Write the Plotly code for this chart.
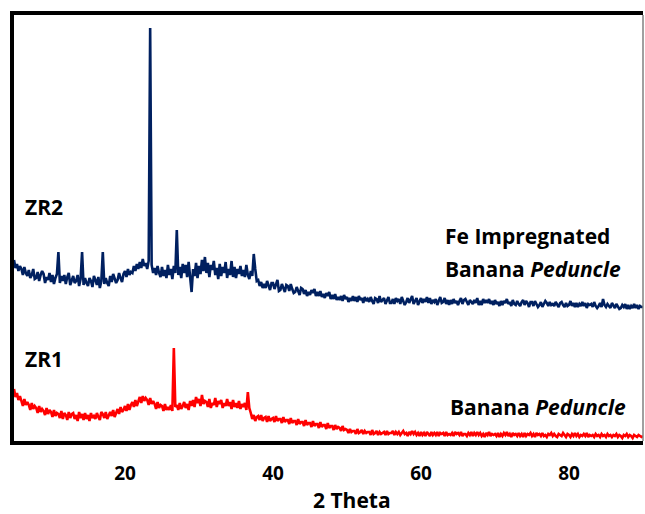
import plotly.graph_objects as go

# 2-theta scan grid (0.2 degree step, 5 to 90)
two_theta_start = 5.0
two_theta_step = 0.2

# ZR2 : Fe impregnated banana peduncle (intensity, a.u.), one row = one degree
zr2 = [
    181,173,177,170,175, 172,166,174,168,165, 171,163,166,172,162, 163,169,160,166,170,
    167,158,164,161,168, 159,166,157,163,167, 189,158,165,160,166, 157,164,168,156,162,
    165,158,160,166,155, 162,189,156,163,158, 155,163,160,154,165, 161,156,164,153,160,
    189,157,163,158,155, 165,159,167,161,158, 161,168,163,159,167, 170,164,172,166,169,
    168,175,170,177,172, 179,173,182,175,178, 172,180,413,176,168, 173,166,175,168,164,
    174,165,171,163,176, 166,172,162,175,168, 211,166,174,163,177, 168,176,164,179,166,
    149,172,165,178,163, 175,167,181,170,184, 168,178,164,176,171, 180,166,173,162,177,
    165,174,168,179,163, 172,166,180,164,174, 163,172,167,175,165, 171,164,176,166,162,
    170,165,187,172,160, 161,155,159,153,157, 153,160,155,151,158, 158,152,156,161,150,
    151,157,153,149,156, 155,150,157,152,148, 149,154,150,146,153, 152,147,151,145,149,
    146,151,148,152,145, 149,145,150,144,147, 143,148,145,149,142, 146,142,147,141,144,
    141,145,140,146,142, 144,139,143,140,145, 140,144,139,145,141, 143,138,144,140,142,
    139,144,140,137,143, 142,138,145,139,141, 143,137,141,144,138, 138,142,137,143,140,
    142,137,144,139,136, 139,143,138,141,145, 137,141,143,136,140, 143,138,142,139,144,
    138,143,137,141,139, 142,136,140,144,138, 139,143,137,141,136, 141,137,142,138,140,
    136,140,143,137,141, 142,138,136,141,139, 137,141,138,143,136, 140,136,142,138,141,
    138,142,137,140,136, 141,137,139,135,140, 136,140,138,142,137, 139,135,141,137,136,
    140,137,135,139,141, 136,140,138,134,139, 139,135,140,137,134, 136,139,134,138,140,
    138,135,139,136,137, 135,139,137,134,138, 139,136,134,138,135, 136,140,135,138,134,
    138,134,137,135,139, 135,138,133,137,136, 137,134,139,135,133, 135,138,134,142,136,
    134,137,135,133,138, 136,133,137,134,132, 133,136,134,137,132, 136,132,135,133,137,
    133,136,132,135,134,
    134,
]

# ZR1 : banana peduncle (intensity, a.u.), one row = one degree
zr1 = [
    52,44,48,41,45, 40,35,42,36,39, 36,31,38,32,35, 33,28,35,29,32, 30,26,33,27,31,
    29,24,31,25,28, 27,23,30,22,28, 26,21,29,23,27, 28,22,26,20,29, 23,27,21,28,22,
    26,20,28,23,25, 22,28,24,21,29, 27,23,29,22,26, 29,25,31,24,28, 32,27,34,29,31,
    35,30,37,31,36, 39,34,41,35,40, 44,38,45,40,43, 41,36,43,37,40, 37,32,39,33,36,
    35,30,37,31,34, 31,36,30,93,34, 36,31,38,32,35, 39,33,37,31,40, 35,41,34,44,38,
    42,35,46,37,40, 39,34,42,33,38, 36,43,34,40,37, 41,33,38,35,42, 35,39,32,41,34,
    38,33,40,32,37, 34,38,31,49,33, 28,22,26,20,24, 25,21,26,20,23, 24,19,25,20,22,
    23,19,25,20,22, 22,18,24,19,21, 21,17,23,18,20, 20,16,22,17,19, 19,15,21,16,18,
    18,14,20,15,17, 17,13,19,14,16, 16,12,18,13,15, 15,11,16,12,14, 13,10,15,11,12,
    11,8,12,9,10, 10,7,12,8,9, 11,7,10,8,9, 9,6,11,7,8, 10,6,9,7,8,
    9,6,10,7,8, 8,10,6,9,7, 9,6,8,10,7, 8,5,9,7,10, 7,9,6,8,5,
    9,6,8,5,9, 7,5,9,6,8, 6,9,5,8,7, 8,5,9,6,7, 6,8,5,9,7,
    8,6,9,5,7, 7,5,8,6,9, 5,8,6,9,6, 8,5,7,4,8, 6,9,5,7,6,
    7,5,8,4,7, 5,8,6,9,5, 7,4,8,6,7, 5,8,5,7,4, 8,5,7,6,8,
    5,7,4,8,6, 7,5,8,5,6, 4,7,6,8,5, 7,5,4,7,6, 5,8,6,4,7,
    6,4,7,5,8, 5,7,4,6,5, 7,5,8,4,6, 5,6,4,7,5, 6,4,7,5,6,
    4,7,5,6,4, 6,5,7,4,6, 5,3,6,5,7, 4,6,5,3,6, 5,4,6,5,4,
    5,
]

tick_values = [20, 40, 60, 80]
tick_labels = ["20", "40", "60", "80"]
x_title = "2 Theta"

two_theta = [round(two_theta_start + i * two_theta_step, 2) for i in range(len(zr2))]

FONT = "Open Sans"

fig = go.Figure()
fig.add_trace(go.Scatter(x=two_theta, y=zr2, mode="lines",
                         line=dict(color="#002060", width=2.6), showlegend=False))
fig.add_trace(go.Scatter(x=two_theta, y=zr1, mode="lines",
                         line=dict(color="#FF0000", width=2.6), showlegend=False))

def label(x, y, text):
    fig.add_annotation(x=x, y=y, xref="x", yref="y", text=text, showarrow=False,
                       xanchor="left", yanchor="middle",
                       font=dict(family=FONT, size=21, color="black", weight="bold"))

label(6.2, 234, "<b>ZR2</b>")
label(6.2, 82, "<b>ZR1</b>")
label(63.0, 205, "<b>Fe Impregnated</b>")
label(63.0, 172, "<b>Banana <i>Peduncle</i></b>")
label(63.7, 34, "<b>Banana <i>Peduncle</i></b>")

fig.add_annotation(x=0.537, y=-0.138, xref="paper", yref="paper", text="<b>" + x_title + "</b>",
                   showarrow=False, xanchor="center", yanchor="middle", borderpad=0,
                   font=dict(family=FONT, size=21, color="black", weight="bold"))

# thin right border
fig.add_shape(type="line", xref="paper", yref="paper", x0=1, x1=1, y0=0, y1=1,
              line=dict(color="#808080", width=1.5))

fig.update_layout(
    width=645, height=514,
    margin=dict(l=14, r=2, t=15, b=73),
    paper_bgcolor="white", plot_bgcolor="white",
    xaxis=dict(range=[5, 90], tickvals=tick_values,
               ticktext=["<b>" + t + "</b>" for t in tick_labels],
               showgrid=False, zeroline=False, ticks="",
               showline=True, linecolor="black", linewidth=3.5, mirror=True,
               tickfont=dict(family=FONT, size=19, color="black"),
               ticklabelstandoff=12),
    yaxis=dict(range=[0, 426], showgrid=False, zeroline=False, ticks="",
               showticklabels=False, showline=True, linecolor="black", linewidth=3.5),
)

fig.write_html("out.html")
